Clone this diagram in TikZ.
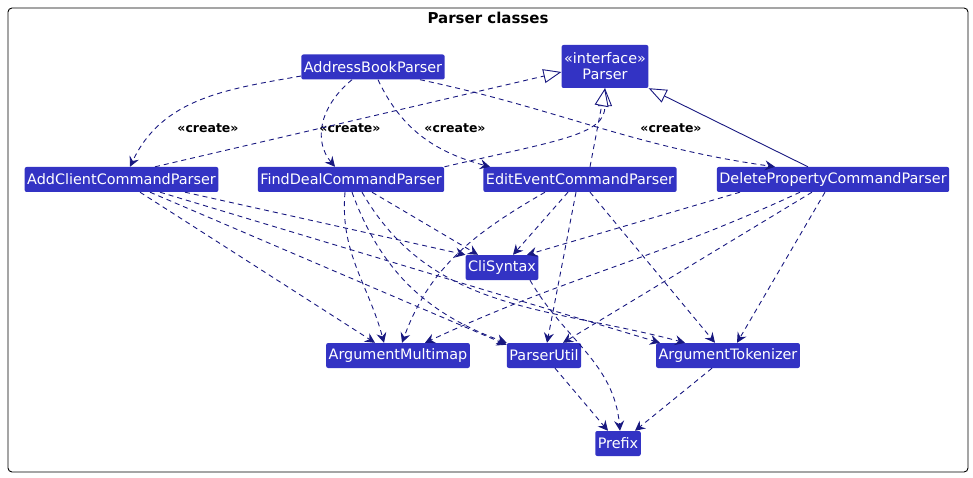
\documentclass[tikz,border=0pt]{standalone}
\usepackage{fontspec}
\setmainfont{DejaVu Sans}
\usepackage{tikz}
\usetikzlibrary{arrows.meta}
\definecolor{boxfill}{RGB}{51,51,196}
\definecolor{lnk}{RGB}{24,24,128}
\tikzset{
	cls/.style={rectangle,rounded corners=2pt,fill=boxfill,text=white,font=\fontsize{14.4}{16}\selectfont,inner xsep=2.5pt,inner ysep=0pt,minimum height=25pt},
	dep/.style={draw=lnk,line width=0.9pt,dash pattern=on 5pt off 4pt,-{Stealth[length=10pt,width=10pt,inset=3.5pt]}},
	real/.style={draw=lnk,line width=0.9pt,dash pattern=on 5pt off 4pt,-{Triangle[open,length=18pt,width=14pt,fill=white]}},
	ext/.style={draw=lnk,line width=0.9pt,-{Triangle[open,length=18pt,width=14pt,fill=white]}},
	crt/.style={font=\bfseries\fontsize{12.5}{14}\selectfont,text=black}
}
\begin{document}
\begin{tikzpicture}[x=1pt,y=-1pt]
		\useasboundingbox (0,0) rectangle (973,478);
%		frame
		\draw[black,line width=0.9pt,rounded corners=4pt] (8,8) rectangle (968,472);
		\node[font=\bfseries\fontsize{15}{17}\selectfont] (ttl) at (488,18) {Parser classes};
		
%		classes
		\node[cls] (abp) at (373,67) {AddressBookParser};
		\node[cls,align=center,minimum height=43pt] (par) at (605,66.5) {«interface»\\Parser};
		\node[cls] (acp) at (121.5,179.5) {AddClientCommandParser};
		\node[cls] (fdp) at (351,179.5) {FindDealCommandParser};
		\node[cls] (eep) at (580,179.5) {EditEventCommandParser};
		\node[cls] (dpp) at (833,179.5) {DeletePropertyCommandParser};
		\node[cls] (cli) at (502,267.5) {CliSyntax};
		\node[cls] (amm) at (398,355.5) {ArgumentMultimap};
		\node[cls] (pu) at (544,355.5) {ParserUtil};
		\node[cls] (tok) at (728,355.5) {ArgumentTokenizer};
		\node[cls] (pre) at (618,443.5) {Prefix};
		
%		create
		\draw[dep] ([yshift=-9pt]abp.west) to[out=190,in=65] ([xshift=8.5pt]acp.north);
		\draw[dep] ([xshift=-21pt]abp.south) .. controls (318,108) and (314,142) .. ([xshift=-16pt]fdp.north);
		\draw[dep] ([xshift=5pt]abp.south) to[out=-65,in=165] ([xshift=-90pt]eep.north);
		\draw[dep] ([xshift=47pt]abp.south) to[out=-12,in=172] ([xshift=-58pt]dpp.north);
		\node[crt] (c1) at (208,128) {«create»};
		\node[crt] (c2) at (350,128) {«create»};
		\node[crt] (c3) at (455,128) {«create»};
		\node[crt] (c4) at (671,128) {«create»};
		
%		Parser
		\draw[real] ([xshift=33.5pt]acp.north) -- ([yshift=-5.5pt]par.west);
		\draw[real] (fdp.north east) .. controls (560,140) and (605,135) .. (par.south);
		\draw[real] ([xshift=10pt]eep.north) -- (par.south);
		\draw[ext] ([xshift=-25pt]dpp.north) -- (par.south east);
		
%		AddClientCommandParser
		\draw[dep] ([xshift=63.5pt]acp.south) -- (cli.north west);
		\draw[dep] ([xshift=18.5pt]acp.south) -- ([xshift=-23pt]amm.north);
		\draw[dep] ([xshift=28.5pt]acp.south) -- ([yshift=-2pt]pu.north west);
		\draw[dep] ([xshift=38.5pt]acp.south) -- ([xshift=4pt]tok.north west);
		
%		FindDealCommandParser
		\draw[dep] ([xshift=-6pt]fdp.south) to[out=-95,in=105] ([xshift=-14pt]amm.north);
		\draw[dep] ([xshift=1pt]fdp.south) to[out=-70,in=160] (pu.north west);
		\draw[dep] ([xshift=21pt]fdp.south) -- ([xshift=-24pt]cli.north);
		\draw[dep] ([xshift=11pt]fdp.south) to[out=-60,in=165] ([xshift=-43pt]tok.north);
		
%		EditEventCommandParser
		\draw[dep] ([xshift=-35pt]eep.south) to[out=-150,in=70] ([xshift=4pt]amm.north);
		\draw[dep] ([xshift=-12pt]eep.south) -- ([xshift=11pt]cli.north);
		\draw[dep] ([xshift=-4pt]eep.south) -- ([xshift=3pt]pu.north);
		\draw[dep] ([xshift=10pt]eep.south) -- ([xshift=-13pt]tok.north);
		
%		DeletePropertyCommandParser
		\draw[dep] ([xshift=-93pt]dpp.south) -- ([xshift=25pt]cli.north);
		\draw[dep] ([xshift=-33pt]dpp.south) to[out=-155,in=25] ([xshift=27pt]amm.north);
		\draw[dep] ([xshift=-21pt]dpp.south) -- ([xshift=19pt]pu.north);
		\draw[dep] ([xshift=-8pt]dpp.south) -- ([xshift=9pt]tok.north);
		
%		Prefix
		\draw[dep] ([xshift=28pt]cli.south) to[out=-60,in=95] ([xshift=2pt]pre.north);
		\draw[dep] ([xshift=11pt]pu.south) -- ([xshift=-10pt]pre.north);
		\draw[dep] ([xshift=-16pt]tok.south) -- ([xshift=17pt]pre.north);
\end{tikzpicture}
\end{document}
